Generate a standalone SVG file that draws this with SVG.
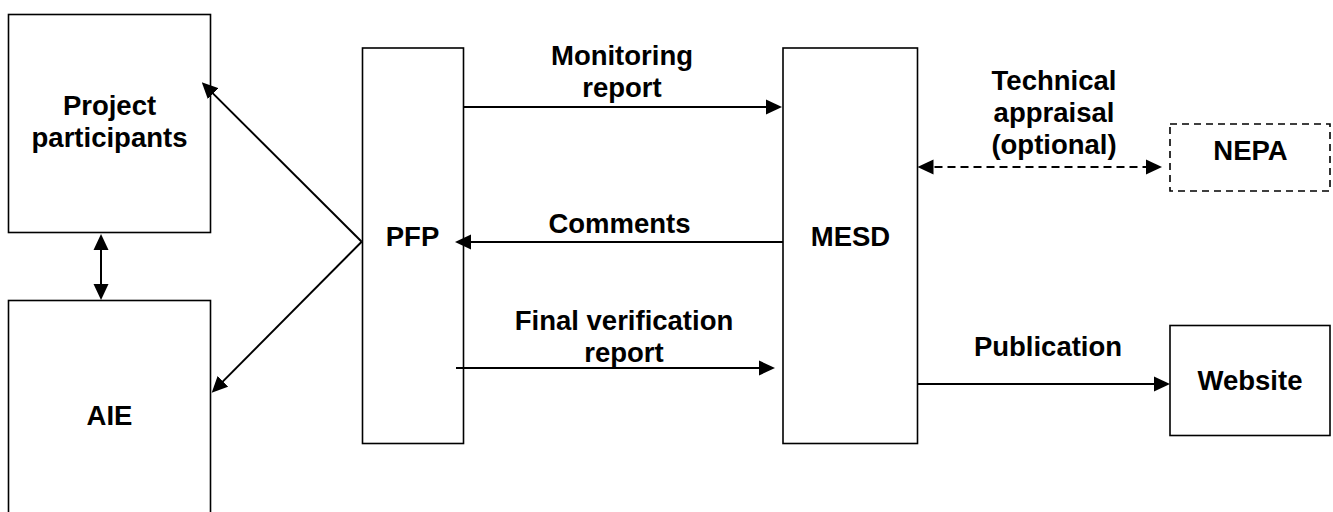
<svg xmlns="http://www.w3.org/2000/svg" width="1333" height="512" viewBox="0 0 1333 512">
  <style>
    .box { fill: #ffffff; stroke: #000000; stroke-width: 1.6; }
    .dashbox { fill: #ffffff; stroke: #000000; stroke-width: 1.6; stroke-dasharray: 7 5; }
    .lbl { font-family: "Liberation Sans", Arial, Helvetica, sans-serif; font-weight: bold; font-size: 27.5px; fill: #000000; text-anchor: middle; }
    .conn { stroke: #000000; stroke-width: 2; fill: none; }
    .dash { stroke-dasharray: 8 5; }
  </style>
  <defs>
    <marker id="ah" markerUnits="userSpaceOnUse" markerWidth="16" markerHeight="16" refX="12" refY="8" orient="auto-start-reverse" viewBox="0 0 16 16">
      <path d="M0,0.5 L16,8 L0,15.5 Z" fill="#000000" stroke="none"/>
    </marker>
  </defs>
  <rect width="1333" height="512" fill="#ffffff"/>

  <g id="node-project-participants">
    <rect class="box" x="8.5" y="14.5" width="202" height="218"/>
    <text class="lbl" x="109.5" y="115">Project</text>
    <text class="lbl" x="109.5" y="147">participants</text>
  </g>
  <g id="node-aie">
    <rect class="box" x="8.5" y="300.5" width="202" height="230"/>
    <text class="lbl" x="109.5" y="425">AIE</text>
  </g>
  <g id="node-pfp">
    <rect class="box" x="362.5" y="48" width="101" height="395.5"/>
    <text class="lbl" x="412.5" y="246">PFP</text>
  </g>
  <g id="node-mesd">
    <rect class="box" x="783" y="48" width="134.5" height="395.5"/>
    <text class="lbl" x="850.5" y="246">MESD</text>
  </g>
  <g id="node-nepa">
    <rect class="dashbox" x="1170" y="124" width="160" height="67"/>
    <text class="lbl" x="1250.5" y="160">NEPA</text>
  </g>
  <g id="node-website">
    <rect class="box" x="1170" y="325.5" width="160" height="110"/>
    <text class="lbl" x="1250" y="390">Website</text>
  </g>

  <g id="connectors">
    <line class="conn" x1="361.7" y1="241.7" x2="204.6" y2="85.1" marker-end="url(#ah)"/>
    <line class="conn" x1="361.7" y1="241.7" x2="214.5" y2="389.9" marker-end="url(#ah)"/>
    <line class="conn" x1="101" y1="238" x2="101" y2="296" marker-start="url(#ah)" marker-end="url(#ah)"/>
    <line class="conn" x1="463.5" y1="107" x2="778" y2="107" marker-end="url(#ah)"/>
    <line class="conn" x1="783" y1="242" x2="459" y2="242" marker-end="url(#ah)"/>
    <line class="conn" x1="456" y1="368" x2="771" y2="368" marker-end="url(#ah)"/>
    <line class="conn dash" x1="921.5" y1="167" x2="1158" y2="167" marker-start="url(#ah)" marker-end="url(#ah)"/>
    <line class="conn" x1="917.5" y1="384" x2="1166" y2="384" marker-end="url(#ah)"/>

    <text class="lbl" x="622" y="65">Monitoring</text>
    <text class="lbl" x="622" y="97">report</text>
    <text class="lbl" x="619.5" y="233">Comments</text>
    <text class="lbl" x="624" y="330">Final verification</text>
    <text class="lbl" x="624" y="362">report</text>
    <text class="lbl" x="1054" y="90">Technical</text>
    <text class="lbl" x="1054" y="122">appraisal</text>
    <text class="lbl" x="1054" y="154">(optional)</text>
    <text class="lbl" x="1048" y="356">Publication</text>
  </g>
</svg>
